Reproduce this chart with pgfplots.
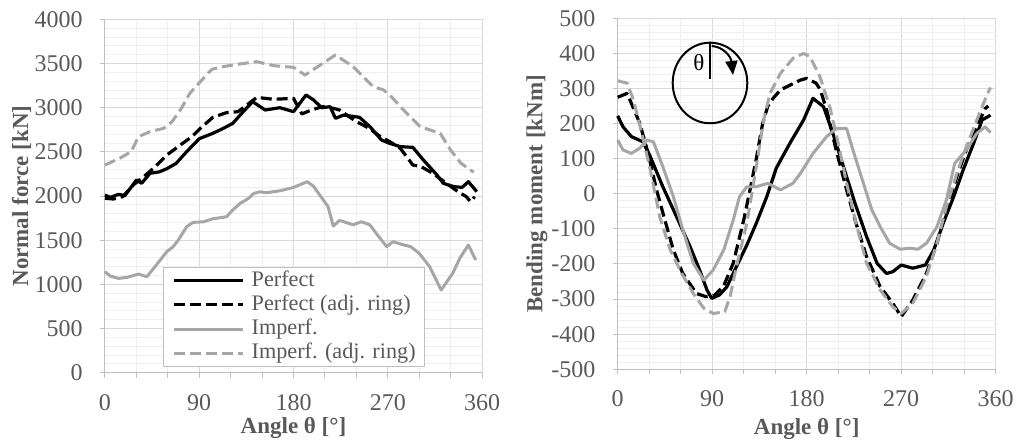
\documentclass[border=0pt]{standalone}
\usepackage{fontspec}
\setmainfont{Liberation Serif}
\usepackage{pgfplots}
\pgfplotsset{compat=1.18}
\usetikzlibrary{arrows.meta}

\definecolor{txtgray}{HTML}{595959}
\definecolor{axgray}{HTML}{BFBFBF}
\definecolor{gridmaj}{HTML}{D9D9D9}
\definecolor{gridmin}{HTML}{EFEFEF}
\definecolor{sgray}{HTML}{A6A6A6}

\pgfplotsset{
  excel/.style={
    scale only axis,
    xmin=0, xmax=360, xtick={0,90,...,360}, minor x tick num=2,
    grid=both,
    major grid style={gridmaj, line width=0.5pt},
    minor grid style={gridmin, line width=0.5pt},
    axis lines*=left,
    axis line style={axgray, line width=0.5pt},
    tick align=outside, tick pos=left,
    major tick length=2.5pt, minor tick length=2.5pt,
    every tick/.style={axgray, line width=0.5pt},
    minor y tick style={draw=none},
    /pgf/number format/assume math mode=true,
    /pgf/number format/1000 sep={},
    scaled y ticks=false,
    xticklabel style={anchor=base, inner sep=0pt, yshift=-16.2pt,
      font=\fontsize{12}{14}\selectfont, text=txtgray},
    yticklabel style={anchor=east, inner sep=0pt, xshift=-8.5pt,
      font=\fontsize{12}{14}\selectfont, text=txtgray},
    label style={font=\bfseries\fontsize{11.5}{13}\selectfont, text=txtgray},
    xlabel={Angle θ [°]},
    no markers,
    every axis plot/.append style={line join=round},
    clip=false,
  },
  perf/.style={black, line width=1.6pt},
  perfadj/.style={black, line width=1.6pt, dash pattern=on 5.5pt off 2.5pt},
  imp/.style={sgray, line width=1.5pt},
  impadj/.style={sgray, line width=1.5pt, dash pattern=on 5.5pt off 2.5pt},
}

\begin{document}
\begin{tikzpicture}
\path[use as bounding box] (0,0) rectangle (508pt,221pt);

% left: normal force
\begin{axis}[excel,
  at={(52.5pt,34.65pt)}, anchor=south west,
  width=188.5pt, height=176.6pt,
  ymin=0, ymax=4000, ytick={0,500,...,4000}, minor y tick num=4,
  ylabel={Normal force [kN]},
  xlabel style={at={(axis description cs:0.5,-0.1716)}, anchor=base},
  ylabel style={at={(axis description cs:-0.221,0.5)}, anchor=center},
  legend style={at={(axis description cs:0.1538,0.0161)}, anchor=south west,
    draw=axgray, line width=0.5pt, fill=white,
    inner xsep=2.75pt, inner ysep=1.3pt, row sep=1.65pt,
    font=\fontsize{11.1}{13}\selectfont, text=txtgray,
    nodes={inner xsep=1.75pt, inner ysep=0pt, text height=8pt, text depth=2.5pt}},
  legend cell align=left,
  legend image code/.code={\path (-1.75pt,0pt) (36.25pt,0pt); \draw[#1] (0pt,0pt) -- (34.5pt,0pt);},
]
\addplot[perf] coordinates {
(0,2012) (5,1985) (13,2020) (19,2005) (30,2182) (35,2145) (43,2258) (52,2275)
(59,2310) (68,2371) (78,2503) (90,2650) (103,2711) (113,2767) (122,2824)
(132,2956) (141,3069) (153,2975) (167,3001) (180,2956) (192,3145) (199,3090)
(207,3000) (215,3013) (220,2881) (228,2918) (243,2892) (253,2786) (264,2635)
(272,2597) (282,2560) (294,2552) (304,2409) (317,2239) (323,2145) (333,2107)
(341,2099) (347,2163) (355,2050)};
\addlegendentry{Perfect}
\addplot[perfadj] coordinates {
(0,1975) (8,1967) (17,1994) (27,2126) (37,2220) (48,2333) (59,2465) (72,2579)
(83,2673) (91,2767) (103,2892) (116,2945) (127,2956) (145,3118) (161,3096)
(180,3107) (188,2930) (197,2975) (208,3013) (218,2994) (224,2975) (240,2843)
(252,2770) (263,2673) (272,2616) (282,2541) (294,2352) (302,2333) (313,2258)
(326,2145) (337,2050) (345,1994) (349,1937) (353,1992)};
\addlegendentry{Perfect (adj. ring)}
\addplot[imp] coordinates {
(0,1143) (5,1094) (13,1068) (21,1079) (32,1117) (40,1087) (49,1219) (59,1370)
(65,1426) (70,1502) (78,1653) (84,1702) (94,1709) (103,1743) (116,1766)
(122,1842) (129,1917) (137,1974) (142,2030) (148,2049) (154,2038) (167,2060)
(180,2098) (193,2163) (199,2113) (207,1980) (213,1880) (218,1660) (224,1725)
(237,1675) (245,1710) (253,1673) (259,1578) (269,1427) (275,1484) (283,1454)
(292,1427) (300,1352) (310,1201) (321,936) (332,1125) (339,1300) (347,1446)
(354,1276)};
\addlegendentry{Imperf.}
\addplot[impadj] coordinates {
(0,2352) (14,2428) (25,2503) (32,2673) (43,2730) (56,2767) (64,2843) (72,2975)
(81,3164) (91,3296) (102,3436) (113,3466) (126,3492) (145,3522) (161,3477)
(180,3458) (191,3371) (220,3598) (237,3466) (256,3239) (266,3202) (272,3145)
(285,2975) (301,2786) (320,2711) (330,2522) (340,2371) (349,2296) (352,2270)};
\addlegendentry{Imperf. (adj. ring)}
\end{axis}

% right: bending moment
\begin{axis}[excel,
  at={(308.85pt,36.35pt)}, anchor=south west,
  width=189pt, height=175.5pt,
  ymin=-500, ymax=500, ytick={-500,-400,...,500}, minor y tick num=4,
  ylabel={Bending moment [kNm]},
  xlabel style={at={(axis description cs:0.5,-0.187)}, anchor=base},
  ylabel style={at={(axis description cs:-0.2135,0.5)}, anchor=center},
]
\addplot[perf] coordinates {
(0,222) (5,191) (13,163) (24,148) (31,106) (43,20) (56,-65) (69,-151) (78,-217)
(85,-274) (89.5,-298) (97,-288) (104,-265) (113,-208) (123,-146) (132,-84)
(142,-8) (151,73) (164,144) (177,210) (186,272) (196,248) (205,172) (215,77)
(226,-27) (237,-122) (247,-198) (256,-227) (262,-222) (270,-203) (281,-212)
(293,-203) (301,-160) (310,-84) (320,-8) (329,68) (339,144) (347,210) (355,224)};
\addplot[perfadj] coordinates {
(0,275) (9,286) (21,201) (29,115) (37,11) (44,-65) (53,-160) (62,-227) (75,-284)
(84,-293) (92,-290) (101,-262) (110,-198) (120,-75) (126,11) (132,100)
(138,200) (143,250) (148,272) (155,296) (161,305) (174,324) (180,329)
(189,315) (193,296) (199,239) (208,125) (218,11) (227,-84) (237,-179)
(250,-265) (262,-312) (270,-350) (281,-303) (294,-227) (304,-141) (313,-46)
(323,49) (332,125) (342,191) (350,243) (353,250)};
\addplot[imp] coordinates {
(0,153) (5,125) (13,115) (21,130) (28,153) (34,148) (43,77) (53,-8) (62,-103)
(72,-198) (82,-246) (91,-217) (101,-160) (110,-75) (116,-8) (123,20) (132,20)
(143,30) (155,11) (167,30) (174,58) (186,115) (199,163) (208,186) (218,186)
(224,125) (234,30) (242,-46) (250,-94) (259,-141) (269,-158) (278,-155)
(286,-158) (294,-141) (304,-94) (313,-18) (321,87) (332,125) (342,172)
(350,191) (355,174)};
\addplot[impadj] coordinates {
(0,322) (9,315) (15,267) (23,172) (31,68) (40,-65) (50,-160) (61,-227) (72,-284)
(82,-326) (91,-341) (102,-336) (107,-293) (113,-208) (123,-84) (132,77)
(139,210) (145,286) (155,343) (167,386) (177,400) (183,391) (192,338)
(202,248) (210,144) (218,30) (227,-84) (237,-198) (250,-274) (262,-322)
(270,-341) (281,-312) (294,-236) (304,-141) (313,-37) (323,58) (332,134)
(342,210) (351,277) (355,303)};
% angle sketch
\coordinate (c) at (axis cs:87.9,315.7);
\draw[black, line width=1pt] (c) ellipse [x radius=18.65pt, y radius=20.15pt];
\draw[black, line width=0.7pt] ([yshift=20.15pt]c) -- ([yshift=1.85pt]c);
\draw[black, line width=1pt, -{Triangle[length=7pt,width=6pt]}]
  ([shift={(0.85pt,18.5pt)}]c) .. controls ([shift={(7pt,18pt)}]c) and ([shift={(10.5pt,13pt)}]c) .. ([shift={(11.5pt,4pt)}]c);
\node[text=black, font=\fontsize{11.5}{13}\selectfont, inner sep=0pt] at ([shift={(-5.5pt,10.25pt)}]c) {θ};
\end{axis}
\end{tikzpicture}
\end{document}
